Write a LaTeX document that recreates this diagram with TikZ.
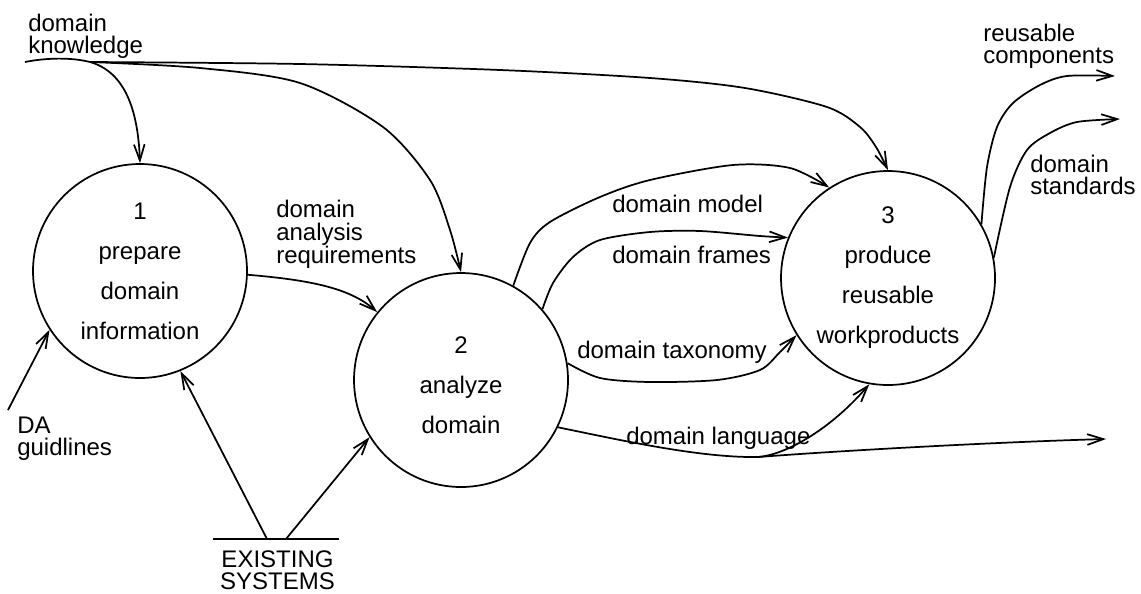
\documentclass[tikz,border=0pt]{standalone}
\usepackage{fontspec}
\setmainfont{Liberation Sans}
\usetikzlibrary{arrows.meta}
\begin{document}
\begin{tikzpicture}[x=0.75pt,y=-0.75pt,
  flow/.style={line width=1.3pt},
  arr/.style={flow,-{Straight Barb[length=12pt,width=8pt,line width=1.3pt]}},
  process/.style={circle,draw,line width=1.3pt,minimum size=160.5pt,inner sep=0pt,
    align=center,font=\fontsize{18}{30}\selectfont},
  lbl/.style={inner sep=0pt,align=left},
  pair/.style={lbl,anchor=north west,font=\fontsize{18}{16.5}\selectfont},
  single/.style={lbl,anchor=base west,font=\fontsize{18}{20}\selectfont},
]
\useasboundingbox (0,0) rectangle (1141,593);

% processes
\node[process] (c1) at (140,271) {1\\prepare\\domain\\information};
\node[process] (c2) at (461,380) {\rule{0pt}{20.4pt}2\\analyze\\domain};
\node[process] (c3) at (888,278) {3\\produce\\reusable\\workproducts};

% flow labels
\node[pair] (dkl) at (28,13.5) {domain\\knowledge};
\node[lbl,anchor=north west,font=\fontsize{18}{17.25}\selectfont] (darl) at (276,199.5) {domain\\analysis\\requirements};
\node[single] (dml) at (612,212) {domain model};
\node[single] (dfl) at (612,263) {domain frames};
\node[single] (dtl) at (577,358) {domain taxonomy};
\node[single] (dll) at (626,444) {domain language};
\node[pair] (rcl) at (983,24) {reusable\\components};
\node[pair] (dsl) at (1030,154.5) {domain\\standards};
\node[pair] (dagl) at (17,416.5) {DA\\guidlines};

% data store
\node[inner sep=0pt,align=center,anchor=north,font=\fontsize{18}{16.5}\selectfont] (es) at (277.5,550) {EXISTING\\SYSTEMS};
\draw[flow] ([xshift=-5.25pt,yshift=8.25pt]es.north west) -- ([xshift=3pt,yshift=8.25pt]es.north east);

% free ends and branch points
\coordinate (dk) at (25,62);
\coordinate (br) at (90,62);
\coordinate (dag) at (8,410);
\coordinate (es1) at (267,539);
\coordinate (es2) at (286,539);
\coordinate (dl) at (758,457);
\coordinate (dlout) at (1106,439);
\coordinate (rc) at (1115,76);
\coordinate (ds) at (1120,119);

% domain knowledge
\draw[flow] (dk) .. controls (45,58) and (70,57) .. (br);
\draw[arr] (br) .. controls (125,72) and (138,110) .. (c1.north);
\draw[arr] plot[smooth] coordinates {(br) (200,68) (300,83) (383,127) (430,180) (450,230) (c2.north)};
\draw[arr] plot[smooth] coordinates {(br) (300,64) (500,70) (650,78) (745,88) (827,107) (860,127) (876,147) (c3.north)};

% inputs
\draw[arr] (dag) -- (c1.213);
\draw[arr] (es1) -- (c1.-68);
\draw[arr] (es2) -- (c2.212);

% domain analysis requirements
\draw[arr] (c1.-2) .. controls (310,280) and (350,288) .. (c2.141);

% outputs of process 2
\draw[arr] plot[smooth] coordinates {(c2.61) (530,243) (550,222) (600,197) (650,180) (733,165) (790,168) (c3.123)};
\draw[arr] plot[smooth] coordinates {(c2.41) (553,283) (573,257) (600,240) (650,232) (700,231) (760,236) (c3.158)};
\draw[arr] plot[smooth] coordinates {(c2.9) (600,378) (650,382) (717,380) (760,370) (780,352) (c3.212)};
\draw[flow] (c2.-26) .. controls (620,440) and (700,458) .. (dl);
\draw[arr] (dl) .. controls (785,455) and (830,430) .. (c3.260);
\draw[arr] (dl) .. controls (850,450) and (1000,442) .. (dlout);

% outputs of process 3
\draw[arr] plot[smooth] coordinates {(c3.30) (987,167) (997,127) (1013,103) (1040,85) (1067,76) (rc)};
\draw[arr] plot[smooth] coordinates {(c3.11) (1010,187) (1027,150) (1050,133) (1077,122) (ds)};
\end{tikzpicture}
\end{document}
